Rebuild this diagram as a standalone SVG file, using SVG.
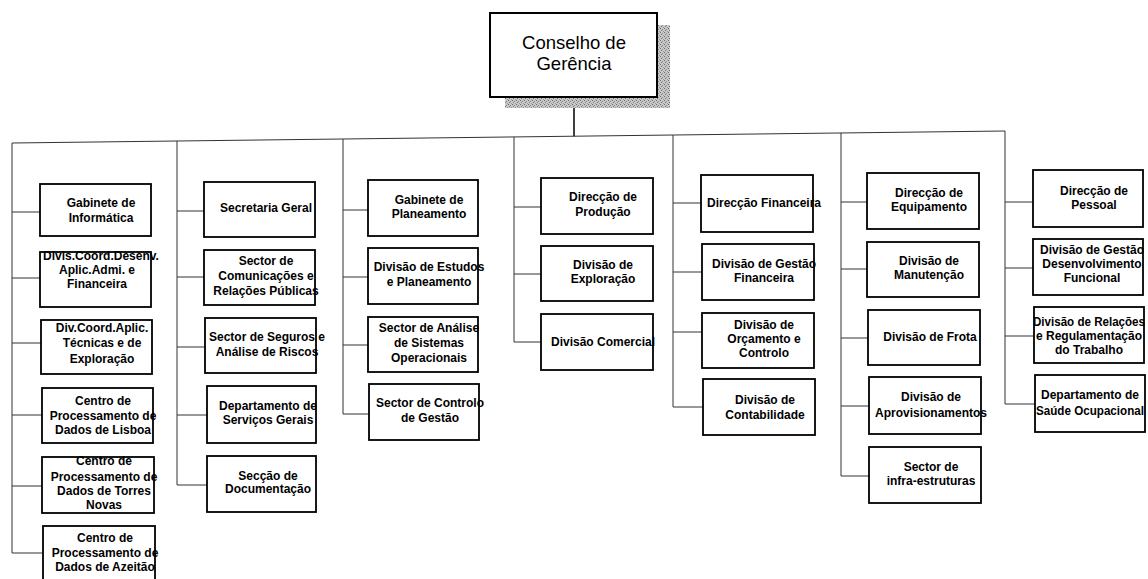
<svg xmlns="http://www.w3.org/2000/svg" width="1148" height="579" viewBox="0 0 1148 579">
<style>
.bx{fill:#fff;stroke:#000;stroke-width:1.8}
.t{font-family:"Liberation Sans",Arial,sans-serif;font-size:12px;font-weight:bold;fill:#000;text-anchor:middle}
.tt{font-family:"Liberation Sans",Arial,sans-serif;font-size:18.5px;fill:#000;text-anchor:middle}
.c{stroke:#333;stroke-width:1;fill:none}
</style>
<defs>
<pattern id="stip" width="4" height="4" patternUnits="userSpaceOnUse">
<rect width="4" height="4" fill="#c8c8c8"/>
<rect x="0" y="0" width="1" height="1" fill="#6a6a6a"/>
<rect x="2" y="1" width="1" height="1" fill="#888"/>
<rect x="1" y="2" width="1" height="1" fill="#777"/>
<rect x="3" y="3" width="1" height="1" fill="#999"/>
</pattern>
</defs>
<rect width="1148" height="579" fill="#fff"/>
<g id="connectors">
<line class="c" x1="574" y1="97" x2="574" y2="136.2" style="stroke:#000;stroke-width:1.5"/>
<line class="c" x1="12" y1="143" x2="1005" y2="131"/>
<path class="c" d="M12,143V553M12,212H40M12,278H40M12,343H41M12,415H42M12,486H42M12,553H43"/>
<path class="c" d="M177,141V485M177,211H204M177,277H204M177,347H205M177,415H207M177,485H207"/>
<path class="c" d="M343,139V414M343,210H368M343,277H368M343,345H368M343,414H369"/>
<path class="c" d="M514,137V342M514,207H541M514,274H541M514,342H541"/>
<path class="c" d="M673,135V407M673,203H701M673,272H702M673,332H702M673,407H703"/>
<path class="c" d="M841,133V476M841,202H867M841,269H867M841,338H868M841,406H869M841,476H869"/>
<path class="c" d="M1005,131V404M1005,202H1033M1005,268H1033M1005,336H1034M1005,404H1035"/>
</g>
<g id="n0">
<rect x="505" y="25" width="165" height="83" fill="url(#stip)"/>
<rect class="bx" x="490" y="13" width="167" height="84" style="stroke-width:2"/>
<text class="tt" x="574" y="49">Conselho de</text>
<text class="tt" x="574" y="70">Gerência</text>
</g>
<g id="n1"><rect class="bx" x="40" y="184" width="111" height="52"/><text class="t" x="101" y="207">Gabinete de</text><text class="t" x="101" y="222">Informática</text></g>
<g id="n2"><rect class="bx" x="40" y="252" width="111" height="55"/><text class="t" x="101" y="260">Divis.Coord.Desenv.</text><text class="t" x="97" y="274">Aplic.Admi. e</text><text class="t" x="97" y="288">Financeira</text></g>
<g id="n3"><rect class="bx" x="41" y="320" width="111" height="54"/><text class="t" x="102" y="332">Div.Coord.Aplic.</text><text class="t" x="102" y="347">Técnicas e de</text><text class="t" x="102" y="363">Exploração</text></g>
<g id="n4"><rect class="bx" x="42" y="388" width="111" height="55"/><text class="t" x="103" y="405">Centro de</text><text class="t" x="103" y="420">Processamento de</text><text class="t" x="103" y="434">Dados de Lisboa</text></g>
<g id="n5"><rect class="bx" x="42" y="457" width="112" height="56"/><text class="t" x="104" y="465">Centro de</text><text class="t" x="104" y="481">Processamento de</text><text class="t" x="104" y="495">Dados de Torres</text><text class="t" x="104" y="509">Novas</text></g>
<g id="n6"><rect class="bx" x="43" y="526" width="112" height="60"/><text class="t" x="105" y="542">Centro de</text><text class="t" x="105" y="557">Processamento de</text><text class="t" x="105" y="571">Dados de Azeitão</text></g>
<g id="n7"><rect class="bx" x="204" y="182" width="111" height="55"/><text class="t" x="266" y="212">Secretaria Geral</text></g>
<g id="n8"><rect class="bx" x="204" y="250" width="111" height="55"/><text class="t" x="266" y="265">Sector de</text><text class="t" x="266" y="280">Comunicações e</text><text class="t" x="266" y="295">Relações Públicas</text></g>
<g id="n9"><rect class="bx" x="205" y="318" width="111" height="55"/><text class="t" x="267" y="341">Sector de Seguros e</text><text class="t" x="267" y="356">Análise de Riscos</text></g>
<g id="n10"><rect class="bx" x="207" y="386" width="109" height="57"/><text class="t" x="268" y="410">Departamento de</text><text class="t" x="268" y="424">Serviços Gerais</text></g>
<g id="n11"><rect class="bx" x="207" y="456" width="109" height="56"/><text class="t" x="268" y="480">Secção de</text><text class="t" x="268" y="493">Documentação</text></g>
<g id="n12"><rect class="bx" x="368" y="180" width="110" height="56"/><text class="t" x="429" y="204">Gabinete de</text><text class="t" x="429" y="218">Planeamento</text></g>
<g id="n13"><rect class="bx" x="368" y="248" width="110" height="56"/><text class="t" x="429" y="271">Divisão de Estudos</text><text class="t" x="429" y="286">e Planeamento</text></g>
<g id="n14"><rect class="bx" x="368" y="317" width="110" height="55"/><text class="t" x="429" y="332">Sector de Análise</text><text class="t" x="429" y="347">de Sistemas</text><text class="t" x="429" y="362">Operacionais</text></g>
<g id="n15"><rect class="bx" x="369" y="384" width="110" height="56"/><text class="t" x="430" y="407">Sector de Controlo</text><text class="t" x="430" y="422">de Gestão</text></g>
<g id="n16"><rect class="bx" x="541" y="178" width="112" height="56"/><text class="t" x="603" y="201">Direcção de</text><text class="t" x="603" y="216">Produção</text></g>
<g id="n17"><rect class="bx" x="541" y="246" width="112" height="55"/><text class="t" x="603" y="269">Divisão de</text><text class="t" x="603" y="283">Exploração</text></g>
<g id="n18"><rect class="bx" x="541" y="314" width="112" height="56"/><text class="t" x="603" y="346">Divisão Comercial</text></g>
<g id="n19"><rect class="bx" x="701" y="175" width="112" height="57"/><text class="t" x="764" y="207">Direcção Financeira</text></g>
<g id="n20"><rect class="bx" x="702" y="244" width="112" height="56"/><text class="t" x="764" y="268">Divisão de Gestão</text><text class="t" x="764" y="282">Financeira</text></g>
<g id="n21"><rect class="bx" x="702" y="313" width="112" height="55"/><text class="t" x="764" y="329">Divisão de</text><text class="t" x="764" y="343">Orçamento e</text><text class="t" x="764" y="357">Controlo</text></g>
<g id="n22"><rect class="bx" x="703" y="379" width="112" height="56"/><text class="t" x="765" y="404">Divisão de</text><text class="t" x="765" y="419">Contabilidade</text></g>
<g id="n23"><rect class="bx" x="867" y="173" width="112" height="56"/><text class="t" x="929" y="197">Direcção de</text><text class="t" x="929" y="211">Equipamento</text></g>
<g id="n24"><rect class="bx" x="867" y="242" width="112" height="55"/><text class="t" x="929" y="265">Divisão de</text><text class="t" x="929" y="279">Manutenção</text></g>
<g id="n25"><rect class="bx" x="868" y="310" width="112" height="55"/><text class="t" x="930" y="341">Divisão de Frota</text></g>
<g id="n26"><rect class="bx" x="869" y="377" width="112" height="57"/><text class="t" x="931" y="401">Divisão de</text><text class="t" x="931" y="417">Aprovisionamentos</text></g>
<g id="n27"><rect class="bx" x="869" y="447" width="112" height="56"/><text class="t" x="931" y="471">Sector de</text><text class="t" x="931" y="485">infra-estruturas</text></g>
<g id="n28"><rect class="bx" x="1033" y="170" width="110" height="57"/><text class="t" x="1094" y="195">Direcção de</text><text class="t" x="1094" y="209">Pessoal</text></g>
<g id="n29"><rect class="bx" x="1033" y="239" width="110" height="56"/><text class="t" x="1092" y="254">Divisão de Gestão</text><text class="t" x="1092" y="268">Desenvolvimento</text><text class="t" x="1092" y="282">Funcional</text></g>
<g id="n30"><rect class="bx" x="1034" y="307" width="110" height="56"/><text class="t" x="1089" y="326" textLength="112" lengthAdjust="spacingAndGlyphs">Divisão de Relações</text><text class="t" x="1089" y="340">e Regulamentação</text><text class="t" x="1089" y="354">do Trabalho</text></g>
<g id="n31"><rect class="bx" x="1035" y="375" width="110" height="57"/><text class="t" x="1090" y="399">Departamento de</text><text class="t" x="1090" y="415" textLength="108" lengthAdjust="spacingAndGlyphs">Saúde Ocupacional</text></g>
</svg>
